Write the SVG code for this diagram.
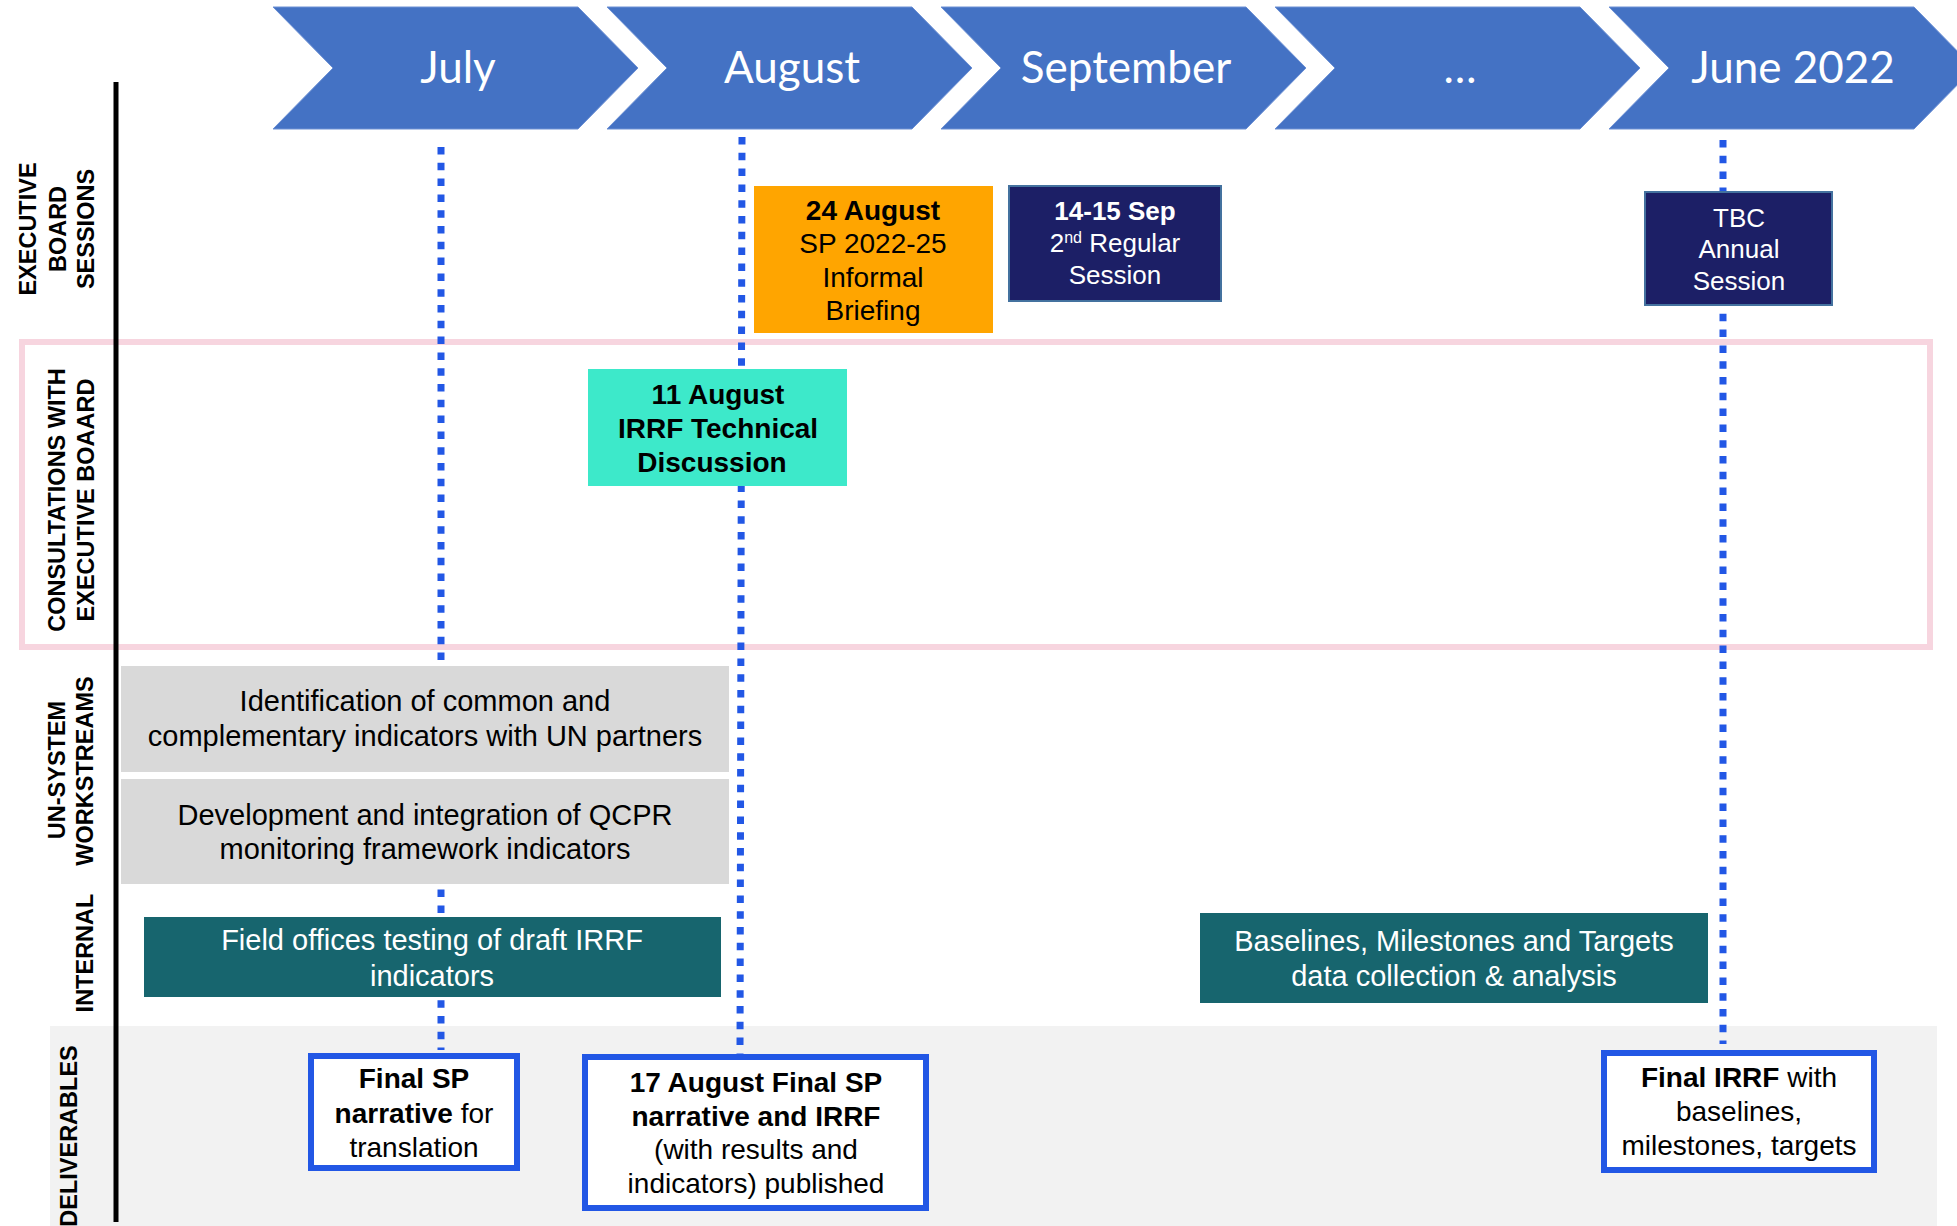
<svg xmlns="http://www.w3.org/2000/svg" width="1957" height="1226" viewBox="0 0 1957 1226">
<style>
.chev{fill:#4472C4;stroke:#6C90D4;stroke-width:1}
.month{font-family:Lato,"Liberation Sans",sans-serif;font-size:44px;fill:#fff;text-anchor:middle}
.lbl{font-family:"Liberation Sans",Arial,sans-serif;font-size:23.5px;font-weight:bold;fill:#000;text-anchor:middle}
.t{font-family:"Liberation Sans",Arial,sans-serif;text-anchor:middle}
.b{font-weight:bold}
.dot{stroke:#2257E5;stroke-width:7;stroke-dasharray:7.5 8.3;fill:none}
.navy{fill:#1C1F66;stroke:#44729F;stroke-width:2}
.deliv{fill:#fff;stroke:#2257E5;stroke-width:6}
</style>
<rect x="0" y="0" width="1957" height="1226" fill="#fff"/>
<rect id="deliverables-band" x="50" y="1026" width="1887" height="200" fill="#F2F2F2"/>
<rect id="consultations-band" x="22" y="342" width="1908" height="305" fill="none" stroke="#F7D5DF" stroke-width="6"/>

<g id="timeline">
<g id="m-july"><polygon class="chev" points="273,7 578,7 638,68 578,129 273,129 333,68"/><text class="month" x="458" y="83">July</text></g>
<g id="m-august"><polygon class="chev" points="607,7 912,7 972,68 912,129 607,129 667,68"/><text class="month" x="792" y="83">August</text></g>
<g id="m-september"><polygon class="chev" points="941,7 1246,7 1306,68 1246,129 941,129 1001,68"/><text class="month" x="1126" y="83">September</text></g>
<g id="m-etc"><polygon class="chev" points="1275,7 1580,7 1640,68 1580,129 1275,129 1335,68"/><text class="month" x="1460" y="83">…</text></g>
<g id="m-june"><polygon class="chev" points="1609,7 1914,7 1974,68 1914,129 1609,129 1669,68"/><text class="month" x="1793" y="83">June 2022</text></g>
</g>

<g id="row-labels">
<text class="lbl" transform="translate(36,229) rotate(-90)">EXECUTIVE</text>
<text class="lbl" transform="translate(66,229) rotate(-90)">BOARD</text>
<text class="lbl" transform="translate(94,229) rotate(-90)">SESSIONS</text>
<text class="lbl" transform="translate(65,500) rotate(-90)">CONSULTATIONS WITH</text>
<text class="lbl" transform="translate(94,500) rotate(-90)">EXECUTIVE BOAARD</text>
<text class="lbl" transform="translate(65,770) rotate(-90)">UN-SYSTEM</text>
<text class="lbl" transform="translate(93,771) rotate(-90)">WORKSTREAMS</text>
<text class="lbl" transform="translate(93,953) rotate(-90)">INTERNAL</text>
<text class="lbl" transform="translate(77,1136) rotate(-90)">DELIVERABLES</text>
</g>

<g id="connectors">
<line class="dot" x1="441" y1="147" x2="441" y2="1050"/>
<line class="dot" x1="742" y1="137" x2="740" y2="1054"/>
<line class="dot" x1="1723" y1="140" x2="1723" y2="1044"/>
</g>

<line id="axis" x1="116" y1="82" x2="116" y2="1222" stroke="#000" stroke-width="5"/>

<g id="n-24aug">
<rect x="754" y="186" width="239" height="147" fill="#FFA500"/>
<text class="t" font-size="28" fill="#000"><tspan class="b" x="873" y="220">24 August</tspan><tspan x="873" y="253">SP 2022-25</tspan><tspan x="873" y="287">Informal</tspan><tspan x="873" y="320">Briefing</tspan></text>
</g>
<g id="n-sep">
<rect class="navy" x="1009" y="186" width="212" height="115"/>
<text class="t" font-size="26" fill="#fff"><tspan class="b" x="1115" y="220">14-15 Sep</tspan><tspan x="1115" y="252">2<tspan font-size="16" dy="-9">nd</tspan><tspan dy="9"> Regular</tspan></tspan><tspan x="1115" y="284">Session</tspan></text>
</g>
<g id="n-tbc">
<rect class="navy" x="1645" y="192" width="187" height="113"/>
<text class="t" font-size="26" fill="#fff"><tspan x="1739" y="227">TBC</tspan><tspan x="1739" y="258">Annual</tspan><tspan x="1739" y="290">Session</tspan></text>
</g>
<g id="n-11aug">
<rect x="588" y="369" width="259" height="117" fill="#3DE9CA"/>
<text class="t b" font-size="28" fill="#000"><tspan x="718" y="404">11 August</tspan><tspan x="718" y="438">IRRF Technical</tspan><tspan x="712" y="472">Discussion</tspan></text>
</g>
<g id="n-identification">
<rect x="121" y="666" width="608" height="106" fill="#D9D9D9"/>
<text class="t" font-size="29" fill="#000"><tspan x="425" y="711">Identification of common and</tspan><tspan x="425" y="746">complementary indicators with UN partners</tspan></text>
</g>
<g id="n-qcpr">
<rect x="121" y="779" width="608" height="105" fill="#D9D9D9"/>
<text class="t" font-size="29" fill="#000"><tspan x="425" y="825">Development and integration of QCPR</tspan><tspan x="425" y="859">monitoring framework indicators</tspan></text>
</g>
<g id="n-field">
<rect x="144" y="917" width="577" height="80" fill="#17656E"/>
<text class="t" font-size="29" fill="#fff"><tspan x="432" y="950">Field offices testing of draft IRRF</tspan><tspan x="432" y="986">indicators</tspan></text>
</g>
<g id="n-baselines">
<rect x="1200" y="913" width="508" height="90" fill="#17656E"/>
<text class="t" font-size="29" fill="#fff"><tspan x="1454" y="951">Baselines, Milestones and Targets</tspan><tspan x="1454" y="986">data collection &amp; analysis</tspan></text>
</g>
<g id="n-finalsp">
<rect class="deliv" x="311" y="1056" width="206" height="112"/>
<text class="t" font-size="28" fill="#000"><tspan class="b" x="414" y="1088">Final SP</tspan><tspan x="414" y="1123"><tspan class="b">narrative</tspan> for</tspan><tspan x="414" y="1157">translation</tspan></text>
</g>
<g id="n-17aug">
<rect class="deliv" x="585" y="1057" width="341" height="151"/>
<text class="t" font-size="28" fill="#000"><tspan class="b" x="756" y="1092">17 August Final SP</tspan><tspan class="b" x="756" y="1126">narrative and IRRF</tspan><tspan x="756" y="1159">(with results and</tspan><tspan x="756" y="1193">indicators) published</tspan></text>
</g>
<g id="n-finalirrf">
<rect class="deliv" x="1604" y="1053" width="270" height="117"/>
<text class="t" font-size="28" fill="#000"><tspan x="1739" y="1087"><tspan class="b">Final IRRF</tspan> with</tspan><tspan x="1739" y="1121">baselines,</tspan><tspan x="1739" y="1155">milestones, targets</tspan></text>
</g>
</svg>
